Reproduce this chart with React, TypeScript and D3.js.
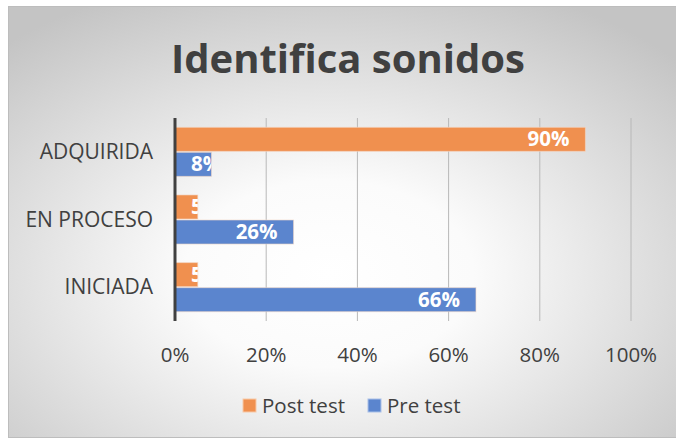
import React from "react";
import * as d3 from "d3";

const categories = ["ADQUIRIDA", "EN PROCESO", "INICIADA"];
const postTest = [90, 5, 5];
const preTest = [8, 26, 66];
const ticks = [0, 20, 40, 60, 80, 100];
const seriesNames = ["Post test", "Pre test"];
const colors = ["#F0904F", "#5B85CE"];

const W = 676;
const H = 439;
const FONT = "'Open Sans', 'Noto Sans', sans-serif";

export default function App() {
  const x = d3.scaleLinear().domain([0, 100]).range([175, 631]);
  const y = d3.scaleBand().domain(categories).range([118, 321]).paddingInner(0.26).paddingOuter(0.13);
  const inner = d3.scaleBand().domain(seriesNames).range([0, y.bandwidth()]);
  const series = [postTest, preTest];
  const pad = 16;
  const approxW = (s: string) => s.length * 13.7;

  return (
    <svg width={W} height={H} style={{ position: "absolute", left: 0, top: 0 }} fontFamily={FONT}>
      <defs>
        <radialGradient id="bg" cx="0.48" cy="0.62" r="0.72" gradientUnits="objectBoundingBox">
          <stop offset="0" stopColor="#ffffff" />
          <stop offset="0.3" stopColor="#fbfbfb" />
          <stop offset="1" stopColor="#c4c4c4" />
        </radialGradient>
        {categories.map((c, ci) =>
          series.map((s, si) => (
            <clipPath id={`clip-${ci}-${si}`} key={`${ci}-${si}`}>
              <rect x={x(0)} y={(y(c) as number) + (inner(seriesNames[si]) as number)} width={x(s[ci]) - x(0)} height={inner.bandwidth()} />
            </clipPath>
          ))
        )}
      </defs>
      <rect x={0} y={0} width={W} height={H} fill="#ffffff" />
      <rect x={8.5} y={6.5} width={W - 8} height={431} fill="url(#bg)" stroke="#bdbdbd" strokeWidth={1} />
      <text x={348} y={73} textAnchor="middle" fontSize={40} fontWeight={700} fill="#404040">
        Identifica sonidos
      </text>
      {ticks.slice(1).map((t) => (
        <line key={t} x1={x(t)} x2={x(t)} y1={118} y2={321} stroke="#b8b8b8" strokeWidth={1} />
      ))}
      {categories.map((c, ci) =>
        series.map((s, si) => {
          const y0 = (y(c) as number) + (inner(seriesNames[si]) as number);
          const bw = inner.bandwidth();
          const x1 = x(s[ci]);
          const label = `${s[ci]}%`;
          const fits = x1 - pad - approxW(label) >= x(0) + 16;
          return (
            <g key={`${ci}-${si}`}>
              <rect x={x(0)} y={y0 + 0.5} width={x1 - x(0)} height={bw - 1} fill={colors[si]} stroke="#f3d9c8" strokeOpacity={0.6} strokeWidth={1} />
              <text
                clipPath={`url(#clip-${ci}-${si})`}
                x={fits ? x1 - pad : x(0) + 16}
                textAnchor={fits ? "end" : "start"}
                y={y0 + bw / 2 + 7}
                fontSize={20.5}
                fontWeight={700}
                fill="#ffffff"
              >
                {label}
              </text>
            </g>
          );
        })
      )}
      <line x1={x(0)} x2={x(0)} y1={118} y2={321} stroke="#404040" strokeWidth={3} />
      {categories.map((c) => (
        <text key={c} x={153} y={(y(c) as number) + y.bandwidth() / 2 + 7} textAnchor="end" fontSize={21} fill="#404040">
          {c}
        </text>
      ))}
      {ticks.map((t) => (
        <text key={t} x={x(t)} y={362} textAnchor="middle" fontSize={20.5} fill="#404040">
          {`${t}%`}
        </text>
      ))}
      <g>
        <rect x={243} y={399} width={13} height={13} fill={colors[0]} stroke="#f8c9a8" />
        <text x={262} y={413} fontSize={20.5} fill="#404040">{seriesNames[0]}</text>
        <rect x={368} y={399} width={13} height={13} fill={colors[1]} stroke="#a9c0e8" />
        <text x={387} y={413} fontSize={20.5} fill="#404040">{seriesNames[1]}</text>
      </g>
    </svg>
  );
}
